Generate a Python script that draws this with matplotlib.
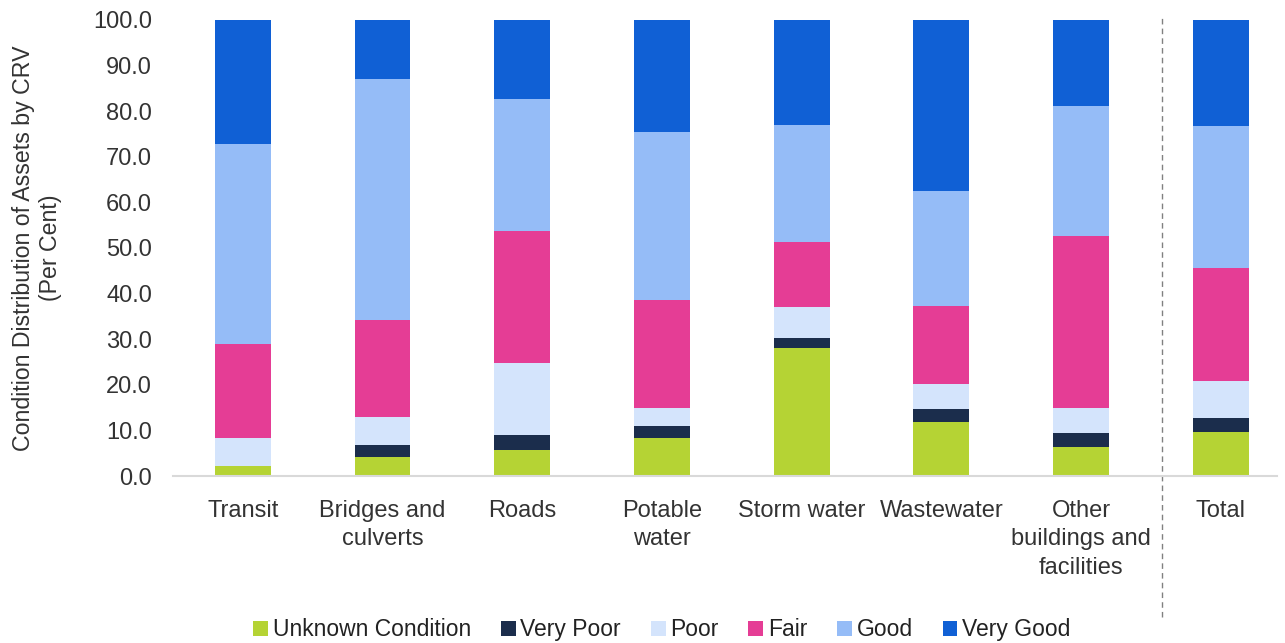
import matplotlib
matplotlib.use("Agg")
import matplotlib.pyplot as plt
import numpy as np

plt.rcParams['font.family'] = ['Liberation Sans', 'DejaVu Sans']

categories = ["Transit", "Bridges and\nculverts", "Roads", "Potable\nwater",
              "Storm water", "Wastewater", "Other\nbuildings and\nfacilities", "Total"]

unknown   = [2.1, 4.1, 5.7, 8.4, 28.0, 11.9, 6.3, 9.6]
very_poor = [0.0, 2.6, 3.4, 2.5, 2.2, 2.7, 3.2, 3.1]
poor      = [6.3, 6.2, 15.7, 4.1, 6.9, 5.6, 5.5, 8.1]
fair      = [20.5, 21.3, 28.9, 23.7, 14.1, 17.1, 37.7, 24.7]
good      = [43.8, 52.9, 28.9, 36.7, 25.7, 25.1, 28.4, 31.3]
very_good = [27.3, 12.9, 17.4, 24.6, 23.1, 37.6, 18.9, 23.2]

series = [
    ("Unknown Condition", unknown, "#B5D334"),
    ("Very Poor", very_poor, "#1B2D4C"),
    ("Poor", poor, "#D4E4FC"),
    ("Fair", fair, "#E53D95"),
    ("Good", good, "#95BCF7"),
    ("Very Good", very_good, "#1060D5"),
]

fig = plt.figure(figsize=(12.85, 6.43), dpi=100)
ax = fig.add_axes([0.1346, 0.2597, 0.8589, 0.7093])

x = np.arange(len(categories))
bottom = np.zeros(len(categories))
for name, vals, col in series:
    ax.bar(x, vals, width=0.4, bottom=bottom, color=col, label=name)
    bottom += np.array(vals)

ax.set_xlim(-0.5, 7.4)
ax.set_ylim(0, 100)
ax.set_yticks(np.arange(0, 101, 10))
ax.set_yticklabels([f"{v:.1f}" for v in np.arange(0, 101, 10)])
ax.set_xticks(x)
ax.set_xticklabels(categories, linespacing=1.4)
ax.tick_params(axis='both', length=0, labelsize=17, labelcolor='#333333')
ax.tick_params(axis='x', pad=17)
ax.tick_params(axis='y', pad=15)

for s in ['top', 'right', 'left']:
    ax.spines[s].set_visible(False)
ax.spines['bottom'].set_color('#d9d9d9')
ax.spines['bottom'].set_linewidth(1.5)

ax.set_ylabel("Condition Distribution of Assets by CRV\n(Per Cent)",
              fontsize=16.7, color='#333333', labelpad=22.5)

# separator before Total
ax.plot([6.58, 6.58], [-0.31, 1.01], transform=ax.get_xaxis_transform(),
        clip_on=False, color='#808080', linestyle=(0, (4, 3)), linewidth=1)

ax.legend(loc='center', bbox_to_anchor=(0.443, -0.337), ncol=6, frameon=False,
          fontsize=16.5, handlelength=0.65, handleheight=0.65, handletextpad=0.2,
          columnspacing=1.3, labelcolor='#222222')

fig.savefig("out.png", dpi=100)
